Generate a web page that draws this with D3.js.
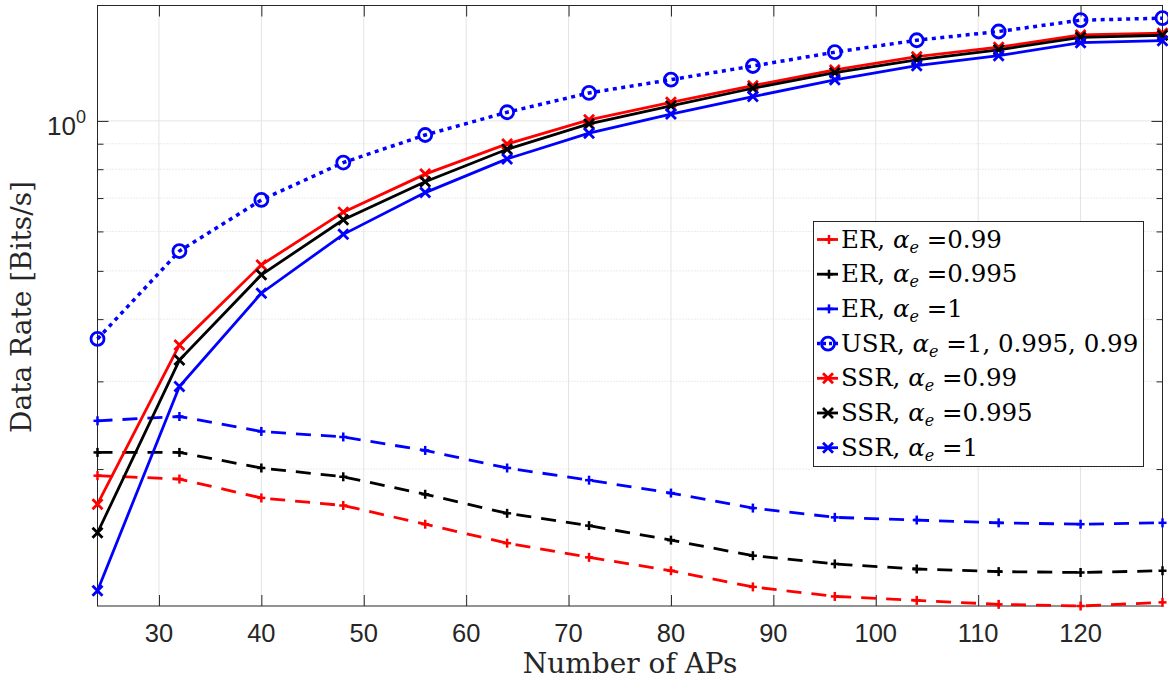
<!DOCTYPE html>
<html>
<head>
<meta charset="utf-8">
<script src="https://cdn.jsdelivr.net/npm/d3@7"></script>
<style>
body { margin: 0; background: #fff; }
</style>
</head>
<body>
<div id="chart"></div>
<script>
// number of access points (x values)
var aps = [24, 32, 40, 48, 56, 64, 72, 80, 88, 96, 104, 112, 120, 128];

// ER curves
var erRed   = [0.194, 0.191, 0.175, 0.169, 0.155, 0.142, 0.133, 0.125, 0.116, 0.111, 0.109, 0.107, 0.1062, 0.108];
var erBlack = [0.216, 0.216, 0.201, 0.193, 0.178, 0.163, 0.154, 0.144, 0.134, 0.129, 0.126, 0.1245, 0.124, 0.125];
var erBlue  = [0.250, 0.255, 0.238, 0.232, 0.218, 0.201, 0.190, 0.179, 0.167, 0.160, 0.158, 0.156, 0.155, 0.156];
// USR curve
var usr     = [0.365, 0.548, 0.694, 0.825, 0.937, 1.041, 1.138, 1.210, 1.289, 1.374, 1.452, 1.512, 1.593, 1.608];
// SSR curves
var ssrRed   = [0.170, 0.355, 0.514, 0.656, 0.782, 0.899, 1.005, 1.090, 1.177, 1.266, 1.346, 1.406, 1.488, 1.500];
var ssrBlack = [0.149, 0.331, 0.491, 0.633, 0.755, 0.877, 0.986, 1.072, 1.163, 1.250, 1.326, 1.389, 1.472, 1.486];
var ssrBlue  = [0.114, 0.293, 0.451, 0.592, 0.718, 0.839, 0.945, 1.032, 1.119, 1.209, 1.291, 1.352, 1.436, 1.449];

var xTicks = [30, 40, 50, 60, 70, 80, 90, 100, 110, 120];
var yMinorTicks = [0.2, 0.3, 0.4, 0.5, 0.6, 0.7, 0.8, 0.9];

var legendNames  = ["ER", "ER", "ER", "USR", "SSR", "SSR", "SSR"];
var legendValues = ["0.99", "0.995", "1", "1, 0.995, 0.99", "0.99", "0.995", "1"];

var series = [
    { values: erRed,    color: "#ff0000", kind: "er" },
    { values: erBlack,  color: "#000000", kind: "er" },
    { values: erBlue,   color: "#0000ff", kind: "er" },
    { values: usr,      color: "#0000ff", kind: "usr" },
    { values: ssrRed,   color: "#ff0000", kind: "ssr" },
    { values: ssrBlack, color: "#000000", kind: "ssr" },
    { values: ssrBlue,  color: "#0000ff", kind: "ssr" }
];

var width = 1168, height = 684;
var pLeft = 97.5, pRight = 1162.5, pTop = 5.5, pBottom = 606;
var axisColor = "#262626";
var serif = "'DejaVu Serif', 'Liberation Serif', serif";
var sans = "'Liberation Sans', Arial, sans-serif";

var svg = d3.select("#chart").append("svg")
    .attr("width", width)
    .attr("height", height);

var x = d3.scaleLinear().domain([24, 128]).range([pLeft, pRight]);
var y = d3.scaleLog().domain([0.1062, 1.705]).range([pBottom, pTop]);

// grid lines
var grid = svg.append("g");
grid.selectAll(".xg").data(xTicks).enter().append("line")
    .attr("x1", function (d) { return x(d); })
    .attr("x2", function (d) { return x(d); })
    .attr("y1", pTop).attr("y2", pBottom)
    .attr("stroke", "#e3e3e3").attr("stroke-width", 1);
grid.selectAll(".ymg").data(yMinorTicks).enter().append("line")
    .attr("x1", pLeft).attr("x2", pRight)
    .attr("y1", function (d) { return y(d); })
    .attr("y2", function (d) { return y(d); })
    .attr("stroke", "#d8d8d8").attr("stroke-width", 1)
    .attr("stroke-dasharray", "1,2");
grid.append("line")
    .attr("x1", pLeft).attr("x2", pRight)
    .attr("y1", y(1)).attr("y2", y(1))
    .attr("stroke", "#e3e3e3").attr("stroke-width", 1);

// axes (MATLAB style: ticks inward, box on)
var xAxisB = svg.append("g").attr("transform", "translate(0," + pBottom + ")")
    .call(d3.axisTop(x).tickValues(xTicks).tickSize(11).tickFormat(""));
var xAxisT = svg.append("g").attr("transform", "translate(0," + pTop + ")")
    .call(d3.axisBottom(x).tickValues(xTicks).tickSize(11).tickFormat(""));
var yAxisL = svg.append("g").attr("transform", "translate(" + pLeft + ",0)")
    .call(d3.axisRight(y).tickValues([1]).tickSize(11).tickFormat(""));
var yAxisR = svg.append("g").attr("transform", "translate(" + pRight + ",0)")
    .call(d3.axisLeft(y).tickValues([1]).tickSize(11).tickFormat(""));
var yMinL = svg.append("g").attr("transform", "translate(" + pLeft + ",0)")
    .call(d3.axisRight(y).tickValues(yMinorTicks).tickSize(6).tickFormat(""));
var yMinR = svg.append("g").attr("transform", "translate(" + pRight + ",0)")
    .call(d3.axisLeft(y).tickValues(yMinorTicks).tickSize(6).tickFormat(""));
[xAxisB, xAxisT, yAxisL, yAxisR, yMinL, yMinR].forEach(function (a) {
    a.select(".domain").remove();
    a.selectAll("line").attr("stroke", axisColor);
});
svg.append("rect")
    .attr("x", pLeft).attr("y", pTop)
    .attr("width", pRight - pLeft).attr("height", pBottom - pTop)
    .attr("fill", "none").attr("stroke", axisColor).attr("stroke-width", 1);

// tick labels
svg.append("g").selectAll("text").data(xTicks).enter().append("text")
    .attr("x", function (d) { return x(d); })
    .attr("y", 642)
    .attr("text-anchor", "middle")
    .style("font-family", sans).style("font-size", "25.5px")
    .attr("fill", axisColor)
    .text(function (d) { return d; });
var yl = svg.append("text")
    .attr("x", 47).attr("y", y(1) + 14)
    .style("font-family", sans).style("font-size", "26px")
    .attr("fill", axisColor);
yl.append("tspan").text("10");
yl.append("tspan").attr("dy", -12).style("font-size", "18px").text("0");

// axis titles
svg.append("text")
    .attr("x", 630).attr("y", 673)
    .attr("text-anchor", "middle")
    .style("font-family", serif).style("font-size", "28px")
    .attr("fill", axisColor)
    .text("Number of APs");
svg.append("text")
    .attr("transform", "translate(31,307) rotate(-90)")
    .attr("text-anchor", "middle")
    .style("font-family", serif).style("font-size", "28px")
    .attr("fill", axisColor)
    .text("Data Rate [Bits/s]");

// markers
function drawMarker(g, kind, cx, cy, color) {
    if (kind === "er") {
        g.append("line").attr("x1", cx - 4).attr("x2", cx + 4).attr("y1", cy).attr("y2", cy)
            .attr("stroke", color).attr("stroke-width", 2.5);
        g.append("line").attr("x1", cx).attr("x2", cx).attr("y1", cy - 4.5).attr("y2", cy + 4.5)
            .attr("stroke", color).attr("stroke-width", 2.5);
    } else if (kind === "usr") {
        g.append("circle").attr("cx", cx).attr("cy", cy).attr("r", 6.5)
            .attr("fill", "none").attr("stroke", color).attr("stroke-width", 2.8);
    } else {
        g.append("path")
            .attr("d", "M" + (cx - 5) + "," + (cy - 5) + "L" + (cx + 5) + "," + (cy + 5) +
                "M" + (cx - 5) + "," + (cy + 5) + "L" + (cx + 5) + "," + (cy - 5))
            .attr("stroke", color).attr("stroke-width", 2.8);
    }
}
function dashFor(kind) {
    if (kind === "er") return "15,10";
    if (kind === "usr") return "4,4.5";
    return null;
}

var line = d3.line()
    .x(function (d, i) { return x(aps[i]); })
    .y(function (d) { return y(d); });

var plot = svg.append("g");
series.forEach(function (s) {
    var g = plot.append("g");
    g.append("path")
        .datum(s.values)
        .attr("d", line)
        .attr("fill", "none")
        .attr("stroke", s.color)
        .attr("stroke-width", s.kind === "usr" ? 3.5 : 2.8)
        .attr("stroke-dasharray", dashFor(s.kind));
    s.values.forEach(function (v, i) {
        drawMarker(g, s.kind, x(aps[i]), y(v), s.color);
    });
});

// legend
var lg = svg.append("g");
lg.append("rect")
    .attr("x", 813.5).attr("y", 221.5)
    .attr("width", 330).attr("height", 245)
    .attr("fill", "#fff").attr("stroke", axisColor).attr("stroke-width", 1);
series.forEach(function (s, i) {
    var cy = 239.5 + i * 34.7;
    var g = lg.append("g");
    g.append("line").attr("x1", 817).attr("x2", 838).attr("y1", cy).attr("y2", cy)
        .attr("stroke", s.color).attr("stroke-width", s.kind === "usr" ? 3.5 : 2.8)
        .attr("stroke-dasharray", s.kind === "usr" ? "3,3" : null);
    drawMarker(g, s.kind, s.kind === "er" ? 829 : 828, cy, s.color);
    var t = g.append("text")
        .attr("x", 841).attr("y", cy + 8)
        .style("font-family", serif).style("font-size", "24.5px")
        .attr("fill", "#000");
    t.append("tspan").text(legendNames[i] + ", ");
    t.append("tspan").style("font-style", "italic").text("\u03b1");
    t.append("tspan").style("font-style", "italic").style("font-size", "16px").attr("dy", 5).text("e");
    t.append("tspan").attr("dy", -5).text(" =" + legendValues[i]);
});
</script>
</body>
</html>
